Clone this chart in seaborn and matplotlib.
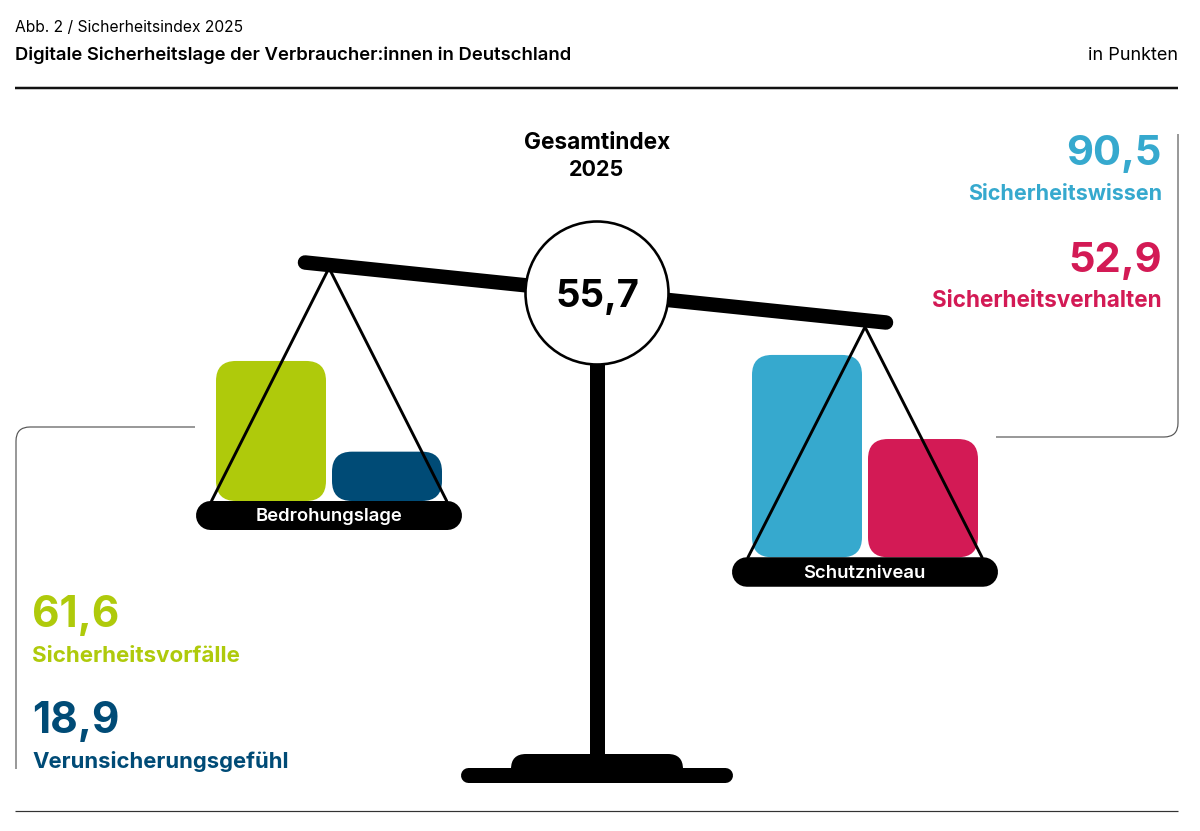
import matplotlib
matplotlib.use("Agg")
import matplotlib.pyplot as plt
from matplotlib.patches import FancyBboxPatch, Circle, PathPatch
from matplotlib.path import Path
import pandas as pd
import seaborn as sns

threat_labels = ["Sicherheitsvorfälle", "Verunsicherungsgefühl"]
threat_values = [61.6, 18.9]
threat_colors = ["#AFCA0B", "#004B76"]
protect_labels = ["Sicherheitswissen", "Sicherheitsverhalten"]
protect_values = [90.5, 52.9]
protect_colors = ["#36A9CE", "#D31A55"]
total_value = 55.7
year = 2025

W, H = 1200, 831
sns.set_theme(style="white")
plt.rcParams["font.family"] = ["Inter", "DejaVu Sans"]
INK = "#000000"
RULE = "#555555"
fig = plt.figure(figsize=(W / 100, H / 100), dpi=100, facecolor="white")


def de(v):
    return f"{v:.1f}".replace(".", ",")


def px_axes(left, top, right, bottom, z):
    ax = fig.add_axes([left / W, 1 - bottom / H, (right - left) / W, (bottom - top) / H], zorder=z)
    ax.patch.set_alpha(0)
    return ax


# overlay in pixel space for the balance drawing and the text
ov = px_axes(0, 0, W, H, 2)
ov.set_xlim(0, W)
ov.set_ylim(H, 0)
ov.axis("off")


def pan_bars(labels, values, colors, cx, base_px, scale, y0):
    top = base_px - (100 - y0) * scale
    ax = px_axes(cx - 116, top, cx + 116, base_px, 1)
    df = pd.DataFrame({"label": labels, "value": values})
    sns.barplot(data=df, x="label", y="value", hue="label", palette=colors, legend=False,
                width=110 / 116, dodge=False, errorbar=None, saturation=1, ax=ax)
    ax.set_xlim(-0.5, 1.5)
    ax.set_ylim(y0, 100)
    ax.axis("off")
    fig.canvas.draw()
    to_px = ax.transData + ov.transData.inverted()
    for bar in list(ax.patches):
        (x0, y_top) = to_px.transform((bar.get_x(), bar.get_height()))
        (x1, _) = to_px.transform((bar.get_x() + bar.get_width(), 0))
        r = 20
        rounded = FancyBboxPatch((x0 + r, y_top + r), x1 - x0 - 2 * r, base_px - y_top - 2 * r,
                                 boxstyle=f"round,pad={r},rounding_size={r}",
                                 transform=ov.transData, facecolor=bar.get_facecolor(),
                                 edgecolor="none", clip_on=False)
        bar.remove()
        ax.add_patch(rounded)


pan_bars(threat_labels, threat_values, threat_colors, 329, 501, 2.124, -4.33)
pan_bars(protect_labels, protect_values, protect_colors, 865, 557.3, 2.236, 0)

# balance
PT = 0.72
ov.plot([305, 886], [262.5, 322.5], color=INK, lw=14.5 * PT, solid_capstyle="round", zorder=3)
ov.plot([597, 597], [360, 762], color=INK, lw=15 * PT, solid_capstyle="butt", zorder=3)
for apex, a, b, y in [(329, 211.5, 446.7, 501), (865, 748, 982, 557.3)]:
    apex_y = 268 if apex == 329 else 327
    ov.plot([a, apex, b], [y, apex_y, y], color=INK, lw=2.9 * PT, solid_joinstyle="miter", zorder=4)
ov.add_patch(Circle((597, 293), 71.5, facecolor="white", edgecolor=INK, lw=2.6 * PT, zorder=5))


def pill(x0, x1, yc, thickness):
    r = thickness / 2
    ov.plot([x0 + r, x1 - r], [yc, yc], color=INK, lw=thickness * PT, solid_capstyle="round",
            zorder=5, snap=False)


pill(196, 462, 515.5, 29)
pill(732, 998, 572, 29.5)
pill(461, 733, 775.5, 15)
r_base = 15
ov.add_patch(FancyBboxPatch((511 + r_base, 754 + r_base), 172 - 2 * r_base, 29 - 2 * r_base,
                            boxstyle=f"round,pad={r_base},rounding_size={r_base}",
                            facecolor=INK, edgecolor="none", zorder=5))
ov.add_patch(plt.Rectangle((514, 772), 166, 11, facecolor=INK, edgecolor="none", zorder=5))


# frames
def frame(verts):
    codes = [Path.MOVETO, Path.LINETO, Path.CURVE3, Path.CURVE3, Path.LINETO]
    ov.add_patch(PathPatch(Path(verts, codes), fill=False, edgecolor=RULE, lw=0.85, zorder=1))


frame([(195, 427), (30, 427), (16, 427), (16, 441), (16, 769)])
frame([(996, 437), (1164, 437), (1178, 437), (1178, 423), (1178, 134)])

# rules
ov.plot([15, 1178], [88, 88], color="#111111", lw=2.5 * PT, solid_capstyle="butt")
ov.plot([15, 1178], [811, 811], color="#333333", lw=1.2 * PT, solid_capstyle="butt")


def txt(x, y, s, size, color=INK, ha="left", weight="bold", z=6):
    ov.text(x, y, s, fontsize=size, color=color, ha=ha, va="baseline", fontweight=weight, zorder=z)


txt(15, 31.5, f"Abb. 2 / Sicherheitsindex {year}", 11.25, weight="normal")
txt(15, 60, "Digitale Sicherheitslage der Verbraucher:innen in Deutschland", 13.3, weight="semibold")
txt(1178, 60, "in Punkten", 13, ha="right", weight="normal")
txt(597, 149, "Gesamtindex", 16.3, ha="center")
txt(597, 176, str(year), 15.5, ha="center")
txt(597, 307, de(total_value), 27.5, ha="center")
txt(329, 521, "Bedrohungslage", 13.3, color="white", ha="center", weight="semibold")
txt(864.5, 578, "Schutzniveau", 13.3, color="white", ha="center", weight="semibold")

txt(1162, 165, de(protect_values[0]), 30, protect_colors[0], "right")
txt(1162, 200.5, protect_labels[0], 15.5, protect_colors[0], "right")
txt(1162, 272, de(protect_values[1]), 30, protect_colors[1], "right")
txt(1162, 307, protect_labels[1], 16.2, protect_colors[1], "right")
txt(32, 627, de(threat_values[0]), 30.5, threat_colors[0])
txt(32, 661.5, threat_labels[0], 16.1, threat_colors[0])
txt(32, 733, de(threat_values[1]), 30.5, threat_colors[1])
txt(32, 768, threat_labels[1], 15.9, threat_colors[1])

fig.savefig("out.png", dpi=100, facecolor="white")
